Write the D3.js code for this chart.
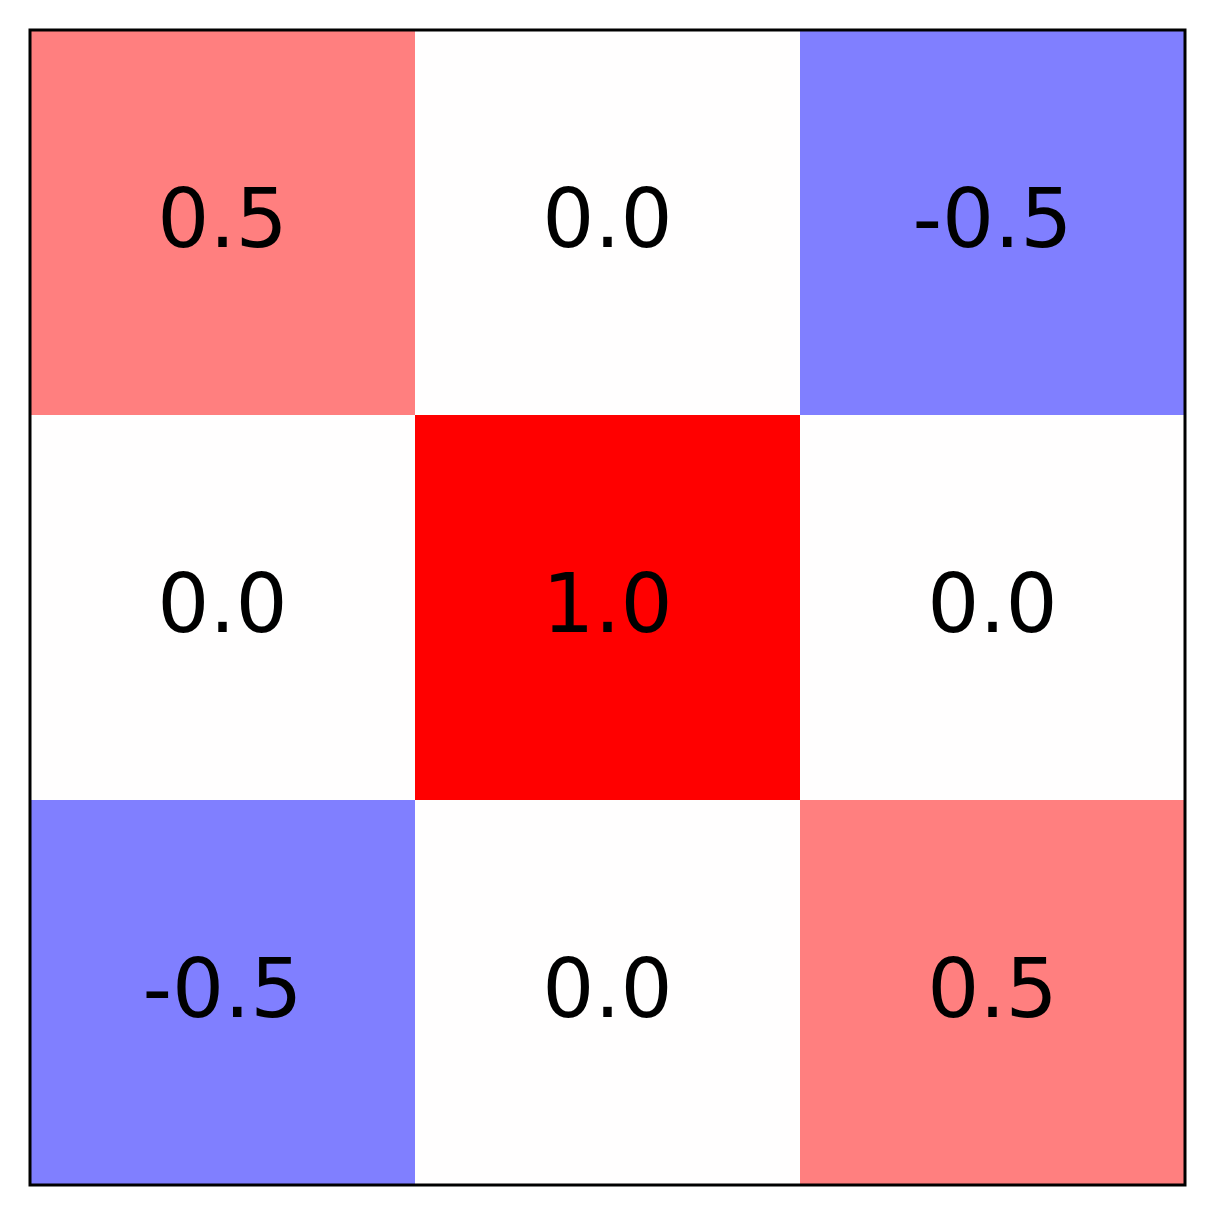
<!DOCTYPE html>
<html><head><meta charset="utf-8">
<script src="https://cdn.jsdelivr.net/npm/d3@7"></script>
<style>html,body{margin:0;padding:0;background:#fff;}</style>
</head><body>
<svg id="chart" width="1215" height="1215"></svg>
<script>
const rowLabels = [0, 1, 2];
const colLabels = [0, 1, 2];
const values = [
  [0.5, 0.0, -0.5],
  [0.0, 1.0, 0.0],
  [-0.5, 0.0, 0.5]
];
const colorDomain = [-1, 0, 1];
const colorRange = ["#0000ff", "#fffefe", "#ff0000"];

(function () {
  const svg = d3.select("#chart");
  const mL = 30, mT = 30, mR = 1185, mB = 1185;
  const x = d3.scaleBand().domain(colLabels).range([mL, mR]).padding(0);
  const y = d3.scaleBand().domain(rowLabels).range([mT, mB]).padding(0);
  const color = d3.scaleLinear().domain(colorDomain).range(colorRange);

  const cells = [];
  values.forEach((row, i) => row.forEach((v, j) => cells.push({r: rowLabels[i], c: colLabels[j], v})));

  svg.append("g").selectAll("rect").data(cells).join("rect")
    .attr("x", d => x(d.c)).attr("y", d => y(d.r))
    .attr("width", x.bandwidth() + 0.5).attr("height", y.bandwidth() + 0.5)
    .attr("fill", d => color(d.v)).attr("shape-rendering", "crispEdges");

  const fs = 82;
  svg.append("g").selectAll("text").data(cells).join("text")
    .attr("x", d => x(d.c) + x.bandwidth() / 2)
    .attr("y", d => y(d.r) + y.bandwidth() / 2 + fs * 0.3)
    .attr("text-anchor", "middle")
    .attr("font-family", "DejaVu Sans")
    .attr("font-size", fs)
    .attr("fill", "#000")
    .text(d => d3.format(".1f")(d.v).replace("−", "-"));

  svg.append("rect").attr("x", mL).attr("y", mT)
    .attr("width", mR - mL).attr("height", mB - mT)
    .attr("fill", "none").attr("stroke", "#000").attr("stroke-width", 3);
})();
</script>
</body></html>
